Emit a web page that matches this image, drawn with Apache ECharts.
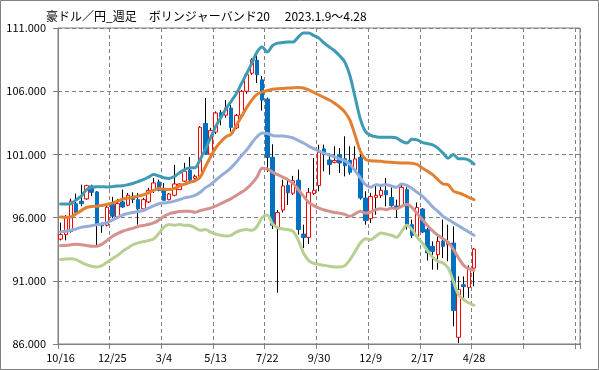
<!DOCTYPE html>
<html><head><meta charset="utf-8">
<script src="https://cdn.jsdelivr.net/npm/echarts@6/dist/echarts.min.js"></script>
<style>html,body{margin:0;padding:0;background:#fff;}#c{width:599px;height:370px;}</style>
</head><body><div id="c"></div>
<script>
const titleText = '豪ドル／円_週足　ボリンジャーバンド20　 2023.1.9～4.28';
const tickLabels = ['10/16','12/25','3/4','5/13','7/22','9/30','12/9','2/17','4/28','',''];
const slotCount = 101;

const opens  = [94.3,94.65,94.9,97.1,97.3,97.48,98.5,98.03,95.5,95.4,
  97.03,96.05,97.24,96.98,97.69,97.42,96.69,97.24,98.14,98.82,
  98.22,97.42,97.77,98.22,98.88,99.75,99.11,99.27,103.45,101.03,
  102.77,104.3,104.1,104.67,103.1,104.09,105.99,107.42,108.45,106.9,
  105.38,100.77,95.2,96.6,98.56,97.93,98.96,94.7,94.44,97.92,
  98.53,101.44,100.56,100.37,100.98,100.66,100.53,99.79,100.77,97.55,
  95.92,97.6,97.74,98.13,97.6,96.92,96.89,98.21,95.44,94.5,
  96.68,95.05,93.73,93.07,94.12,93.86,93.99,86.53,90.69,90.48,92.0];
const closes = [94.65,96.0,97.3,96.4,97.1,98.53,98.0,95.39,95.35,96.82,
  96.11,97.11,96.84,97.77,97.42,96.69,97.42,98.16,98.74,98.16,
  97.37,97.87,98.66,98.66,99.67,98.96,99.27,103.15,101.05,102.9,
  104.28,104.0,104.67,103.14,104.09,105.99,107.31,108.48,107.3,105.3,
  100.77,95.4,96.4,98.5,97.96,98.92,95.06,94.42,98.0,98.16,
  101.17,100.98,100.19,100.52,100.32,100.1,99.58,100.64,97.55,95.76,
  97.68,97.76,98.16,97.81,96.94,96.71,98.39,95.44,94.6,96.8,
  94.86,93.2,93.33,94.12,93.73,94.07,88.64,90.3,90.54,91.96,93.51];
const lows   = [94.2,94.2,94.8,96.25,96.9,97.4,97.7,93.81,94.8,95.3,
  95.97,96.0,96.77,96.9,97.16,95.45,96.63,97.16,97.95,98.08,
  97.37,97.37,97.69,98.2,98.82,98.88,99.0,99.14,100.99,100.7,
  102.6,103.3,103.9,102.8,103.0,103.9,105.8,107.3,106.65,104.46,
  99.6,95.1,90.05,96.4,97.0,97.8,94.65,93.6,93.91,97.81,
  98.08,99.66,99.4,100.3,99.53,99.26,99.4,99.7,97.42,95.44,
  95.57,96.23,97.56,96.89,96.76,95.97,96.76,95.05,94.39,94.4,
  94.78,92.6,91.88,91.88,92.8,92.54,87.4,86.08,89.64,89.64,90.56];
const highs  = [95.6,96.2,97.5,97.9,98.6,98.6,98.6,98.1,95.6,97.1,
  97.64,97.48,98.22,97.95,98.0,97.95,97.56,98.35,99.14,99.0,
  98.74,97.95,100.17,98.7,100.33,100.8,99.4,103.23,105.46,103.1,
  104.4,104.5,105.3,104.9,104.2,106.1,107.5,108.6,109.02,107.2,
  105.5,101.8,96.6,99.0,99.0,99.3,99.8,95.44,98.34,100.72,
  101.77,101.77,101.1,101.64,101.5,102.43,101.64,101.64,101.5,98.08,
  97.95,98.6,98.48,99.13,98.4,97.42,98.74,98.4,95.84,97.2,
  96.76,95.2,94.12,94.65,95.84,95.44,95.31,91.35,91.35,92.22,93.6];

const upper2 = [97.08,97.08,97.1,97.4,97.7,98.2,98.4,98.45,98.45,98.42,
  98.45,98.5,98.52,98.6,98.7,98.85,99.0,99.2,99.4,99.3,
  99.15,99.1,99.25,99.55,99.8,99.95,99.95,100.6,101.4,102.3,
  103.2,103.9,104.6,105.2,105.8,106.6,107.4,108.2,109.1,109.5,
  109.1,109.6,109.8,109.85,109.9,109.9,110.3,110.6,110.6,110.4,
  110.2,109.8,109.5,109.2,108.8,108.3,107.2,105.5,103.8,102.8,
  102.5,102.4,102.35,102.35,102.35,102.3,102.05,101.9,102.2,102.15,
  101.95,101.85,101.75,101.5,101.1,100.7,101.0,100.66,100.66,100.55,100.24];
const upper1 = [96.05,96.03,96.05,96.3,96.55,96.8,96.88,96.9,96.95,97.05,
  97.15,97.3,97.45,97.55,97.6,97.7,97.8,97.95,98.15,98.3,
  98.25,98.22,98.3,98.5,98.65,98.8,98.9,99.2,100.0,100.8,
  101.5,102.0,102.4,102.6,103.3,104.0,104.7,105.3,105.75,105.95,
  106.05,106.15,106.2,106.22,106.25,106.27,106.3,106.25,106.1,105.9,
  105.7,105.5,105.3,105.05,104.75,104.35,103.7,102.5,101.25,100.6,
  100.5,100.48,100.45,100.4,100.37,100.33,100.32,100.32,100.3,100.2,
  99.92,99.66,99.4,99.0,98.66,98.6,98.1,97.95,97.8,97.6,97.42];
const middle = [94.87,94.92,95.0,95.1,95.24,95.3,95.36,95.43,95.5,95.6,
  95.8,96.0,96.2,96.32,96.4,96.48,96.55,96.75,96.92,97.1,
  97.16,97.21,97.3,97.42,97.56,97.64,97.75,98.0,98.35,98.6,
  98.95,99.3,99.6,99.95,100.4,100.9,101.35,101.9,102.4,102.7,
  102.65,102.5,102.45,102.45,102.4,102.3,102.1,101.9,101.65,101.45,
  101.25,101.1,100.95,100.8,100.65,100.5,100.2,99.7,99.15,98.6,
  98.4,98.6,98.55,98.6,98.5,98.4,98.66,98.55,98.3,98.0,
  97.7,97.3,96.85,96.5,96.1,95.85,95.6,95.35,95.1,94.85,94.6];
const lower1 = [93.8,93.8,93.85,93.9,93.85,93.8,93.73,93.73,93.9,94.2,
  94.5,94.73,94.92,95.05,95.15,95.3,95.37,95.45,95.58,95.8,
  96.1,96.3,96.4,96.48,96.5,96.5,96.42,96.55,96.65,96.75,
  96.9,97.1,97.3,97.5,97.75,98.0,98.3,98.7,99.2,99.9,
  99.85,99.6,99.4,99.2,99.0,98.7,98.2,97.7,97.2,96.95,
  96.75,96.6,96.5,96.4,96.35,96.25,96.1,96.3,96.5,96.35,
  96.44,96.63,96.71,96.63,96.76,96.7,96.89,97.05,96.8,96.3,
  95.85,95.35,94.95,94.6,94.33,94.05,93.5,92.8,92.22,91.96,91.82];
const lower2 = [92.68,92.72,92.75,92.68,92.47,92.28,92.15,92.1,92.2,92.47,
  92.75,93.0,93.33,93.6,93.85,94.0,94.1,94.18,94.3,94.75,
  95.25,95.45,95.4,95.45,95.4,95.37,95.2,95.0,95.05,94.85,
  94.7,94.6,94.55,94.6,94.85,95.0,95.05,95.0,95.3,96.0,
  96.2,95.5,95.2,95.1,95.05,94.9,94.2,93.2,92.6,92.38,
  92.3,92.22,92.15,92.1,92.1,92.2,92.67,93.33,93.99,94.33,
  94.25,94.52,94.78,94.7,94.6,94.44,94.91,95.39,95.05,94.44,
  93.99,93.38,92.86,92.54,92.41,92.01,90.96,89.9,89.51,89.24,89.06];

const slots = Array.from({length: slotCount}, (_, i) => String(i));
const candleData = opens.map((o, i) => [o, closes[i], lows[i], highs[i]]);
const bodyData = opens.map((o, i) => [o, closes[i], Math.min(o, closes[i]), Math.max(o, closes[i])]);

const gridGray = '#808080';
const chart = echarts.init(document.getElementById('c'), null, {renderer: 'canvas'});
const lineSeries = (name, data, color) => ({
  name, type: 'line', data, symbol: 'none', smooth: 0.3,
  lineStyle: {width: 3, color, cap: 'round', join: 'round'}, itemStyle: {color}, z: 3, animation: false
});
chart.setOption({
  animation: false,
  backgroundColor: '#fff',
  title: {text: titleText, left: 41, top: 5,
    textStyle: {fontFamily: 'Noto Sans CJK JP', fontSize: 12, fontWeight: 'normal', color: '#000'}},
  graphic: [{type: 'rect', shape: {x: 0.5, y: 0.5, width: 598, height: 369},
    style: {fill: 'none', stroke: gridGray, lineWidth: 1}, silent: true}],
  grid: {left: 58, right: 19, top: 28, bottom: 26, show: true, borderColor: gridGray, borderWidth: 1},
  xAxis: {
    type: 'category', data: slots, boundaryGap: true,
    axisLine: {lineStyle: {color: gridGray}},
    axisTick: {show: true, interval: 9, length: 5, lineStyle: {color: gridGray}},
    axisLabel: {interval: 9, margin: 8, color: '#000', fontSize: 11, fontFamily: 'Noto Sans CJK JP',
      formatter: (v, idx) => (idx % 10 === 0 ? (tickLabels[idx / 10] || '') : '')},
    splitLine: {show: true, interval: 9, lineStyle: {color: gridGray, type: [4, 3], width: 1}}
  },
  yAxis: {
    type: 'value', min: 86, max: 111, interval: 5, scale: true,
    axisLine: {show: true, lineStyle: {color: gridGray}},
    axisTick: {show: true, length: 5, lineStyle: {color: gridGray}},
    axisLabel: {color: '#000', fontSize: 11, margin: 12, fontFamily: 'Noto Sans CJK JP',
      formatter: v => v.toFixed(3)},
    splitLine: {show: true, lineStyle: {color: gridGray, type: [4, 3], width: 1}}
  },
  series: [
    {name: 'wick', type: 'candlestick', data: candleData, barWidth: 1, z: 1,
      itemStyle: {color: '#000', color0: '#000', borderColor: '#000', borderColor0: '#000', borderWidth: 1}},
    {name: 'body', type: 'candlestick', data: bodyData, barWidth: 4, z: 2,
      itemStyle: {color: '#ffffff', color0: '#0070C0', borderColor: '#FF0000', borderColor0: '#0070C0', borderWidth: 1}},
    lineSeries('+2σ', upper2, '#3F9AB3'),
    lineSeries('+1σ', upper1, '#E3802F'),
    lineSeries('MA20', middle, '#95AED8'),
    lineSeries('-1σ', lower1, '#D4928E'),
    lineSeries('-2σ', lower2, '#B7CF92')
  ]
});
</script></body></html>
